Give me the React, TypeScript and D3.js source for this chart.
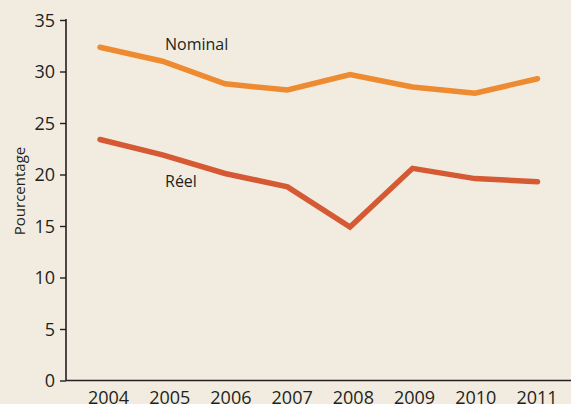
import React, { useEffect, useRef } from "react";
import * as d3 from "d3";

const years = ["2004", "2005", "2006", "2007", "2008", "2009", "2010", "2011"];
const nominal = [32.35, 31.0, 28.8, 28.2, 29.7, 28.5, 27.9, 29.3];
const reel = [23.4, 21.9, 20.1, 18.8, 14.9, 20.6, 19.6, 19.3];
const yTicks = [0, 5, 10, 15, 20, 25, 30, 35];
const seriesNames = ["Nominal", "Réel"];

const W = 571;
const H = 404;
const FONT = "'Open Sans', sans-serif";
const TEXT = "#231f20";

export default function App() {
  const ref = useRef<SVGSVGElement>(null);

  useEffect(() => {
    const svg = d3.select(ref.current);
    svg.selectAll("*").remove();

    svg.append("rect").attr("width", W).attr("height", H).attr("fill", "#f2ece0");

    const x = d3.scalePoint<string>().domain(years).range([100, 537.5]);
    const xLab = d3.scalePoint<string>().domain(years).range([108.5, 537]);
    const y = d3.scaleLinear().domain([0, 35]).range([380.5, 20]);

    // y axis
    const yAxis = d3.axisLeft(y).tickValues(yTicks).tickSize(6).tickSizeOuter(0).tickPadding(5);
    const gy = svg.append("g").attr("transform", "translate(66,0)").call(yAxis as any);
    gy.select(".domain").attr("stroke", TEXT).attr("stroke-width", 1.6).attr("d", `M0,${y(35) - 1}V${y(0)}`);
    gy.selectAll(".tick line").attr("stroke", TEXT).attr("stroke-width", 1.4);
    gy.selectAll(".tick text")
      .attr("font-family", FONT)
      .attr("font-size", 18)
      .attr("fill", TEXT)
      .attr("dy", "0.36em");

    // x axis line
    svg.append("line")
      .attr("x1", 66).attr("x2", W).attr("y1", y(0)).attr("y2", y(0))
      .attr("stroke", TEXT).attr("stroke-width", 1.6);

    // x labels
    svg.append("g").selectAll("text").data(years).join("text")
      .attr("x", (d) => xLab(d)!)
      .attr("y", 403.5)
      .attr("text-anchor", "middle")
      .attr("font-family", FONT)
      .attr("font-size", 18)
      .attr("fill", TEXT)
      .text((d) => d);

    // y title
    svg.append("text")
      .attr("transform", `translate(24.5,191) rotate(-90)`)
      .attr("text-anchor", "middle")
      .attr("font-family", FONT)
      .attr("font-size", 15)
      .attr("fill", TEXT)
      .text("Pourcentage");

    const line = d3.line<number>().x((_, i) => x(years[i])!).y((d) => y(d));

    const series = [
      { name: seriesNames[0], values: nominal, color: "#ee8a2f", lx: 165, ly: 50 },
      { name: seriesNames[1], values: reel, color: "#d55a34", lx: 165, ly: 186.5 },
    ];

    series.forEach((s) => {
      svg.append("path")
        .attr("d", line(s.values)!)
        .attr("fill", "none")
        .attr("stroke", s.color)
        .attr("stroke-width", 5.5)
        .attr("stroke-linecap", "round")
        .attr("stroke-linejoin", "miter");
      svg.append("text")
        .attr("x", s.lx)
        .attr("y", s.ly)
        .attr("font-family", FONT)
        .attr("font-size", 16)
        .attr("fill", TEXT)
        .text(s.name);
    });
  }, []);

  return (
    <div style={{ position: "fixed", left: 0, top: 0, width: W, height: H }}>
      <svg ref={ref} width={W} height={H} style={{ display: "block" }} />
    </div>
  );
}
